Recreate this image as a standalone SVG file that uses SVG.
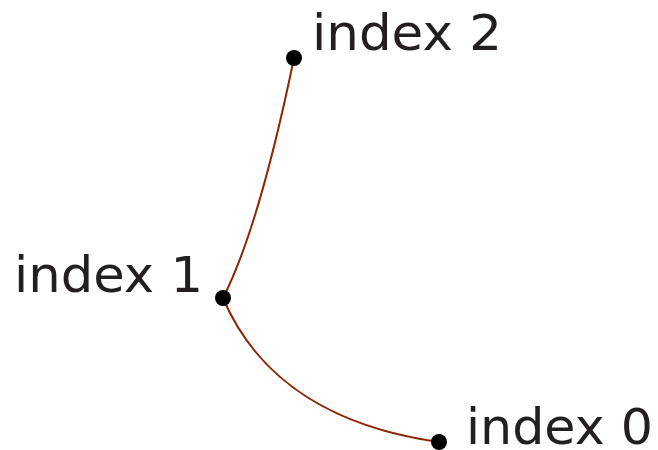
<svg xmlns="http://www.w3.org/2000/svg" width="658" height="450" viewBox="0 0 658 450">
<style>
.lbl{font-family:"DejaVu Sans",sans-serif;font-size:50px;fill:#231f20}
.dot{fill:#000}
.edge{fill:none;stroke:#8b2500;stroke-width:2}
</style>
<rect width="658" height="450" fill="#fff"/>
<g id="connectors">
<path class="edge" d="M439,442 C340,428 260,385 223,298"/>
<path class="edge" d="M223,298 C250,245 275,150 294,58"/>
</g>
<g id="node0"><circle class="dot" cx="439" cy="442" r="8"/><text class="lbl" x="466" y="444" textLength="187" lengthAdjust="spacingAndGlyphs">index 0</text></g>
<g id="node1"><circle class="dot" cx="223" cy="298" r="8"/><text class="lbl" x="14" y="292" textLength="189" lengthAdjust="spacingAndGlyphs">index 1</text></g>
<g id="node2"><circle class="dot" cx="294" cy="58" r="8"/><text class="lbl" x="312" y="50" textLength="190" lengthAdjust="spacingAndGlyphs">index 2</text></g>
</svg>
